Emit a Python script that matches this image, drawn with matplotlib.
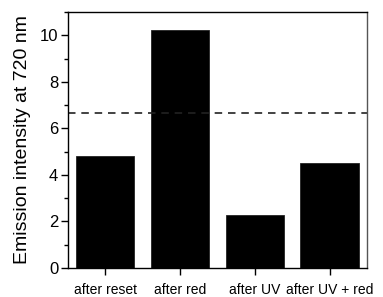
import matplotlib
matplotlib.use('Agg')
import matplotlib.pyplot as plt
from matplotlib.ticker import MultipleLocator

# Data
categories = ['after reset', 'after red', 'after UV', 'after UV + red']
intensity = [4.82, 10.22, 2.27, 4.52]
reference_level = 6.68

plt.rcParams['font.family'] = ['Liberation Sans', 'DejaVu Sans']

fig = plt.figure(figsize=(3.83, 2.97), dpi=100)
ax = fig.add_axes([0.1775, 0.0976, 0.7805, 0.862])

x = range(len(categories))
ax.bar(x, intensity, width=0.78, color='black', edgecolor='#222222', linewidth=0.6)
ax.axhline(reference_level, color='#222222', linestyle=(0, (4.5, 3.5)), linewidth=1.2)

ax.set_xlim(-0.5, 3.5)
ax.set_ylim(0, 11)
ax.set_xticks(list(x))
ax.set_xticklabels(categories, fontsize=10)
ax.yaxis.set_major_locator(MultipleLocator(2))
ax.yaxis.set_minor_locator(MultipleLocator(1))
ax.tick_params(axis='y', which='major', labelsize=12, length=5, width=1, direction='out', pad=2)
ax.tick_params(axis='y', which='minor', length=3, width=1, direction='out')
ax.tick_params(axis='x', which='major', length=5, width=1, direction='out', pad=5.5)
ax.set_ylabel('Emission intensity at 720 nm', fontsize=14, labelpad=6)

for side in ['left', 'bottom', 'top']:
    ax.spines[side].set_linewidth(1.0)
ax.spines['right'].set_linewidth(1.0)
ax.spines['right'].set_color('#555555')

fig.savefig('out.png', dpi=100)
